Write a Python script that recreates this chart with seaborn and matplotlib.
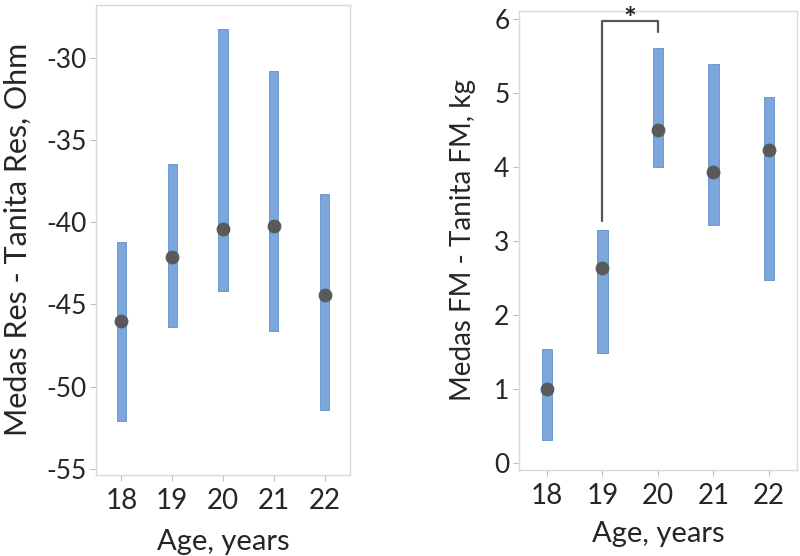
import matplotlib
matplotlib.use('Agg')
import matplotlib.pyplot as plt
import seaborn as sns
import pandas as pd

# datos
ages = [18, 19, 20, 21, 22]

res_low = [-52.07, -46.36, -44.19, -46.63, -51.4]
res_high = [-41.2, -36.46, -28.22, -30.77, -38.26]
res_mean = [-45.98, -42.1, -40.43, -40.21, -44.43]

fm_low = [0.32, 1.49, 4.0, 3.22, 2.48]
fm_high = [1.54, 3.15, 5.61, 5.4, 4.95]
fm_mean = [1.0, 2.64, 4.5, 3.93, 4.23]

res_ticks = [-55, -50, -45, -40, -35, -30]
fm_ticks = [0, 1, 2, 3, 4, 5, 6]

sns.set_style('white')
plt.rcParams['font.family'] = ['Lato', 'DejaVu Sans']

bar_color = '#7ba7dc'
edge_color = '#6290c8'
dot_color = '#595959'
spine_color = '#d9d9d9'

fig = plt.figure(figsize=(8, 5.56), dpi=100)
ax1 = fig.add_axes([0.12, 0.1462, 0.3175, 0.8453])
ax2 = fig.add_axes([0.649, 0.1547, 0.3468, 0.8255])


def draw_panel(ax, low, high, mean, ticks, ylim, ylabel, ylab_size, ylab_x, xlab_y):
    df = pd.DataFrame({'age': ages, 'low': low, 'high': high, 'mean': mean})
    ax.bar(df['age'], df['high'] - df['low'], bottom=df['low'], width=0.185,
           color=bar_color, edgecolor=edge_color, linewidth=0.6, zorder=2)
    sns.scatterplot(data=df, x='age', y='mean', ax=ax, s=85, color=dot_color,
                    edgecolor=dot_color, zorder=3, legend=False)
    ax.set_xlim(17.5, 22.5)
    ax.set_ylim(*ylim)
    ax.set_xticks(ages)
    ax.set_yticks(ticks)
    ax.set_xticklabels([str(a) for a in ages])
    ax.set_yticklabels([str(t) for t in ticks])
    ax.tick_params(axis='both', length=4.5, width=0.8, color='#bfbfbf',
                   direction='out', left=True, bottom=True)
    ax.tick_params(axis='x', labelsize=20, pad=5)
    ax.tick_params(axis='y', labelsize=19, pad=2.5)
    for s in ax.spines.values():
        s.set_color(spine_color)
        s.set_linewidth(1.0)
    ax.set_xlabel('Age, years', fontsize=21)
    ax.set_ylabel(ylabel, fontsize=ylab_size)
    ax.xaxis.label.set_va('center')
    ax.yaxis.label.set_va('center')
    ax.xaxis.set_label_coords(0.5, xlab_y)
    ax.yaxis.set_label_coords(ylab_x, 0.5)


draw_panel(ax1, res_low, res_high, res_mean, res_ticks, (-55.37, -26.75),
           'Medas Res - Tanita Res, Ohm', 22, -0.307, -0.143)
draw_panel(ax2, fm_low, fm_high, fm_mean, fm_ticks, (-0.09, 6.11),
           'Medas FM - Tanita FM, kg', 20, -0.203, -0.139)

# corchete de significancia entre 19 y 20
ax2.plot([19, 19, 20, 20], [3.27, 5.97, 5.97, 5.82], color='#555555',
         linewidth=1.6, clip_on=False, zorder=4)
ax2.text(19.5, 5.87, '*', ha='center', va='baseline', fontsize=22,
         fontweight='bold', color='#222222', clip_on=False, zorder=5)

fig.savefig('out.png', dpi=100)
